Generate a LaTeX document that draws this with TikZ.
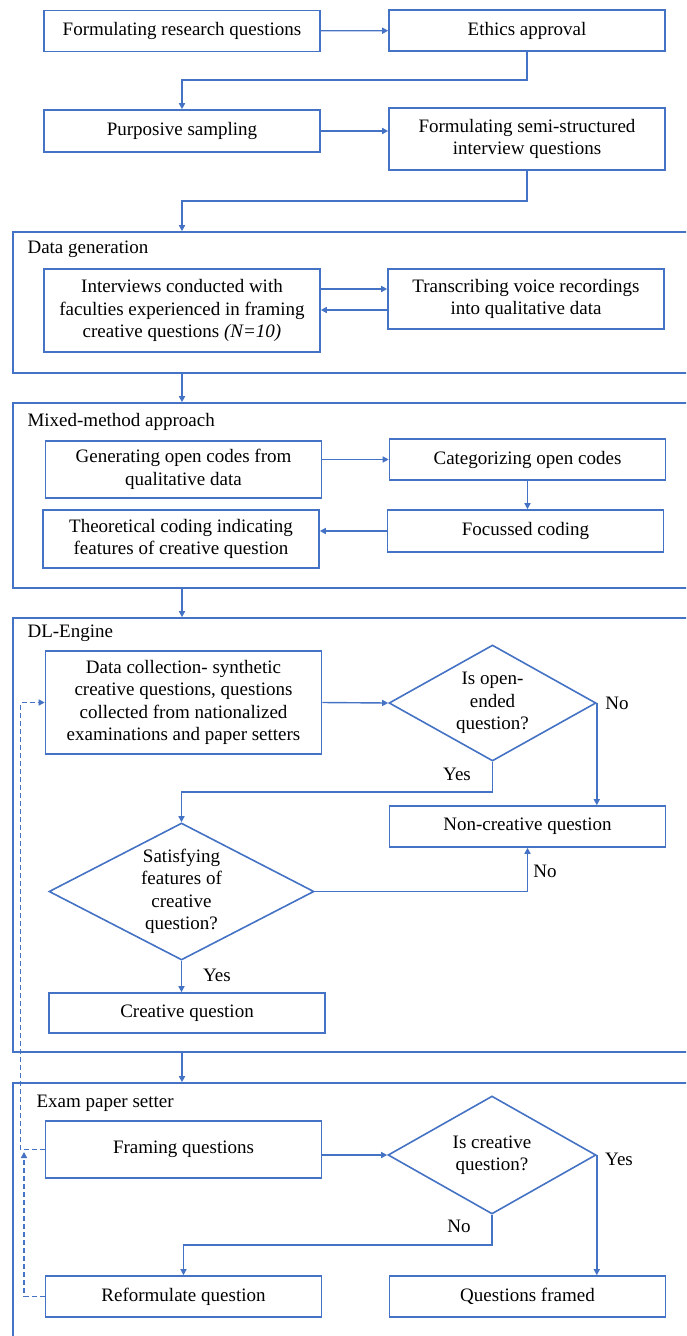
\documentclass[tikz,border=0pt]{standalone}
\usepackage{fontspec}
\setmainfont{Liberation Serif}
\usetikzlibrary{shapes.geometric,arrows.meta}
\definecolor{flowblue}{HTML}{4472C4}

\begin{document}
\begin{tikzpicture}[x=1pt,y=-1pt,font=\fontsize{19}{22.5}\selectfont,
  box/.style={draw=flowblue,line width=1.6pt,minimum width=276pt,align=center,inner sep=2pt},
  decision/.style={diamond,draw=flowblue,line width=1.6pt,align=center,inner sep=0pt},
  frame/.style={draw=flowblue,line width=1.6pt,minimum width=677pt},
  arr/.style={draw=flowblue,line width=1.4pt,-{Triangle[length=6pt,width=6pt]}},
  loop/.style={arr,dash pattern=on 5pt off 3pt}]
\path[use as bounding box,clip] (0,0) rectangle (686,1336);
\node[frame,minimum height=141pt] (dgen) at (351.5,302.5) {};
\node[frame,minimum height=185pt] (mix) at (351.5,495.5) {};
\node[frame,minimum height=434pt] (dle) at (351.5,835) {};
\node[frame,minimum height=262pt] (eps) at (351.5,1214) {};
\node[anchor=west] (tdgen) at (24,249) {Data generation};
\node[anchor=west] (tmix) at (24,422) {Mixed-method approach};
\node[anchor=west] (tdle) at (24,633) {DL-Engine};
\node[anchor=west] (teps) at (33,1103) {Exam paper setter};
\node[box,minimum height=41pt] (rq) at (182,31) {Formulating research questions};
\node[box,minimum height=41pt] (eth) at (527,30.5) {Ethics approval};
\node[box,minimum height=42pt] (samp) at (182,131) {Purposive sampling};
\node[box,minimum height=62pt] (semi) at (527,139) {Formulating semi-structured\\interview questions};
\node[box,minimum height=83pt] (intv) at (182,310.5) {Interviews conducted with\\faculties experienced in framing\\creative questions \textit{(N=10)}};
\node[box,minimum height=60pt] (trans) at (526,299) {Transcribing voice recordings\\into qualitative data};
\node[box,minimum height=57pt] (open) at (183.5,469.5) {Generating open codes from\\qualitative data};
\node[box,minimum height=41pt] (cat) at (527.5,459.5) {Categorizing open codes};
\node[box,minimum height=42pt] (foc) at (525.5,531) {Focussed coding};
\node[box,minimum height=58pt] (theo) at (181,539) {Theoretical coding indicating\\features of creative question};
\node[box,minimum height=103pt] (coll) at (183.5,702.5) {Data collection- synthetic\\creative questions, questions\\collected from nationalized\\examinations and paper setters};
\node[decision,minimum width=207pt,minimum height=116pt,aspect=1.78] (isopen) at (492.5,703) {Is open-\\ended\\question?};
\node[box,minimum height=41pt] (noncr) at (527.5,826.5) {Non-creative question};
\node[decision,minimum width=265pt,minimum height=137pt,aspect=1.93] (sat) at (181.5,891.5) {Satisfying\\features of\\creative\\question?};
\node[box,minimum height=40pt] (creat) at (187,1013) {Creative question};
\node[box,minimum height=57pt] (frm) at (183.5,1149.5) {Framing questions};
\node[decision,minimum width=208pt,minimum height=118pt,aspect=1.76] (iscr) at (492,1155) {Is creative\\question?};
\node[box,minimum height=41pt] (refm) at (183.5,1296.5) {Reformulate question};
\node[box,minimum height=41pt] (done) at (527.5,1296.5) {Questions framed};
\node (no1) at (617,703) {No};
\node (yes1) at (457,774) {Yes};
\node (no2) at (545,871) {No};
\node (yes2) at (217,975) {Yes};
\node (yes3) at (619,1159) {Yes};
\node (no3) at (459,1226) {No};
\coordinate (back) at (24,1152);
\draw[arr] (rq) -- (eth);
\draw[arr] (eth.south) -- ++(0,28) -| (samp.north);
\draw[arr] (samp.east) -- (samp.east -| semi.west);
\draw[arr] (semi.south) -- ++(0,30) -| (rq.south |- dgen.north);
\draw[arr] ([yshift=10pt]trans.west -| intv.east) -- ([yshift=10pt]trans.west);
\draw[arr] ([yshift=-11pt]trans.west) -- ([yshift=-11pt]trans.west -| intv.east);
\draw[arr] (rq.south |- dgen.south) -- (rq.south |- mix.north);
\draw[arr] (cat.west -| open.east) -- (cat.west);
\draw[arr] (cat.south) -- (cat.south |- foc.north);
\draw[arr] (foc.west) -- (foc.west -| theo.east);
\draw[arr] (rq.south |- mix.south) -- (rq.south |- dle.north);
\draw[arr] (coll.east) -- (isopen.west);
\draw[arr] (isopen.east) -- (isopen.east |- noncr.north);
\draw[arr] (isopen.south) -- ++(0,30) -| (sat.north);
\draw[arr] (sat.east) -| (noncr.south);
\draw[arr] (sat.south) -- (sat.south |- creat.north);
\draw[arr] (rq.south |- dle.south) -- (rq.south |- eps.north);
\draw[arr] (iscr.west -| frm.east) -- (iscr.west);
\draw[arr] (iscr.east) -- (iscr.east |- done.north);
\draw[arr] (iscr.south) -- ++(0,30) -| (refm.north);
\draw[loop] (refm.west) -| (back);
\draw[loop] (frm.west) -- ++(-24,0) |- (coll.west);
\end{tikzpicture}
\end{document}
